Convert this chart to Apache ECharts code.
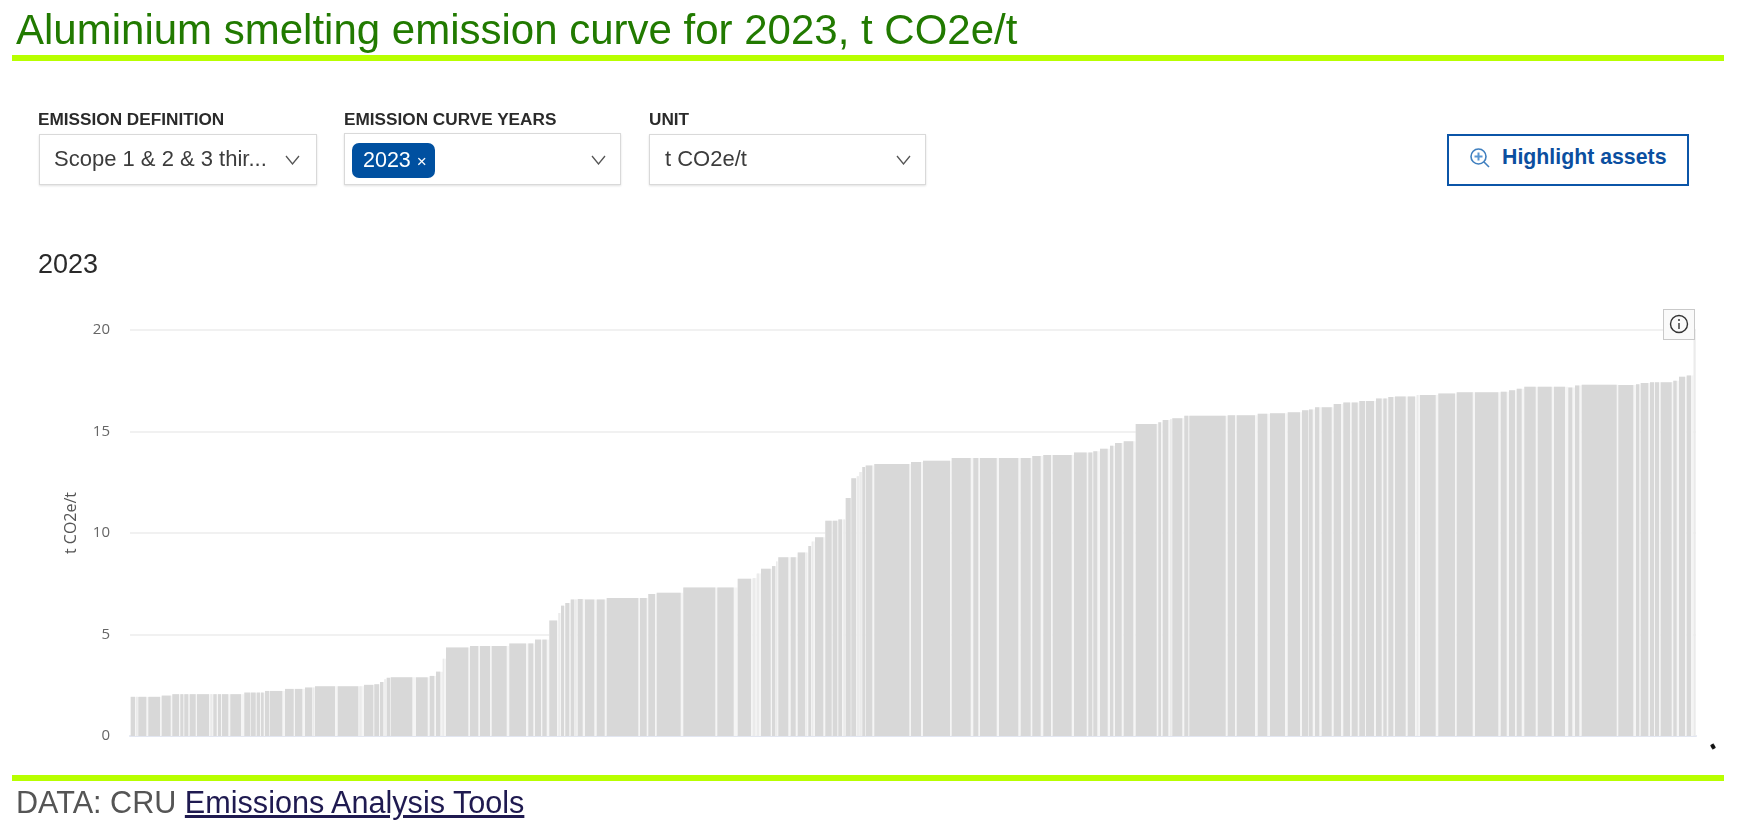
<!DOCTYPE html>
<html><head><meta charset="utf-8">
<script src="https://cdn.jsdelivr.net/npm/echarts@6/dist/echarts.min.js"></script>
<style>
html,body{margin:0;padding:0;background:#fff;width:1737px;height:829px;overflow:hidden;font-family:"Liberation Sans",Arial,sans-serif}
#chart{position:absolute;left:0;top:0;width:1737px;height:829px}
.a{position:absolute;white-space:nowrap}
.rule{position:absolute;left:12px;width:1712px;height:6px;background:#b8ff00}
.lab{font-weight:bold;font-size:17.2px;color:#2a2a2a;top:109px}
.box{position:absolute;height:50px;background:#fff;border:1px solid #d9d9d9;box-shadow:0 1px 2px rgba(0,0,0,.12);box-sizing:border-box}
.val{font-size:22px;color:#3c3c3c;top:146px}
svg.chev{position:absolute;top:155px}
</style></head><body>
<div id="chart"></div>
<div class="a" style="left:16px;top:7px;font-size:42px;color:#217a00;line-height:46px">Aluminium smelting emission curve for 2023, t CO2e/t</div>
<div class="rule" style="top:55px"></div>
<div class="a lab" style="left:38px">EMISSION DEFINITION</div>
<div class="a lab" style="left:344px">EMISSION CURVE YEARS</div>
<div class="a lab" style="left:649px">UNIT</div>
<div class="box" style="left:39px;top:134px;width:278px;height:51px"></div>
<div class="box" style="left:344px;top:133px;width:277px;height:52px"></div>
<div class="box" style="left:649px;top:134px;width:277px;height:51px"></div>
<div class="a val" style="left:54px">Scope 1 &amp; 2 &amp; 3 thir...</div>
<div class="a" style="left:352px;top:143px;width:83px;height:35px;background:#0050a0;border-radius:7px;color:#fff;font-size:21.5px;line-height:35px;text-indent:11px">2023 <span style="font-size:17px">×</span></div>
<div class="a val" style="left:665px">t CO2e/t</div>
<svg class="chev" style="left:285px" width="15" height="10"><path d="M1 1L7.5 9L14 1" fill="none" stroke="#555" stroke-width="1.3"/></svg>
<svg class="chev" style="left:591px" width="15" height="10"><path d="M1 1L7.5 9L14 1" fill="none" stroke="#555" stroke-width="1.3"/></svg>
<svg class="chev" style="left:896px" width="15" height="10"><path d="M1 1L7.5 9L14 1" fill="none" stroke="#555" stroke-width="1.3"/></svg>
<div class="box" style="left:1447px;top:134px;width:242px;height:52px;border:2px solid #0b55a8;box-shadow:none"></div>
<svg class="a" style="left:1469px;top:147px" width="22" height="22"><circle cx="9.5" cy="9.5" r="7.5" fill="none" stroke="#3f7fbf" stroke-width="1.6"/><path d="M15 15L20 20" stroke="#3f7fbf" stroke-width="1.6"/><path d="M9.5 5.5V13.5M5.5 9.5H13.5" stroke="#5a96d2" stroke-width="2"/></svg>
<div class="a" style="left:1502px;top:145px;font-size:21.3px;font-weight:bold;color:#0b4fa0">Highlight assets</div>
<div class="a" style="left:38px;top:249px;font-size:27px;color:#2a2a2a">2023</div>
<div class="a" style="left:1663px;top:309px;width:32px;height:31px;box-sizing:border-box;background:#fafafa;border:1px solid #c9c9c9"></div>
<svg class="a" style="left:1668px;top:313px" width="22" height="22"><circle cx="11" cy="11" r="8.5" fill="none" stroke="#333" stroke-width="1.4"/><path d="M11 10V16" stroke="#333" stroke-width="1.4"/><circle cx="11" cy="7" r="1" fill="#333"/></svg>
<div class="a" style="left:1711px;top:744px;width:4px;height:5px;background:#111;border-radius:1px;transform:rotate(-30deg)"></div>
<div class="rule" style="top:775px"></div>
<div class="a" style="left:16px;top:785px;font-size:30.6px;color:#555;line-height:34px">DATA: CRU <span style="color:#1f1a50;text-decoration:underline">Emissions Analysis Tools</span></div>
<script>
// Cumulative capacity (arbitrary units): where each asset's bar begins and ends
const assetStart = [0.7,6,8.3,18.3,31.7,42.3,50.3,54.3,59.7,67,80.3,83.3,88,92,100.3,114.3,121,126.7,131,135,139.7,155,165,175,182.7,185,207.7,229.3,234,244.3,250,254.3,256.7,260.7,286,299.7,306,311.7,
312.7,316,340,350,361.7,379.3,398.3,405,412.3,419.3,428.3,431,435.3,440.7,445,447.7,455,466.7,476.7,510,518.3,526.7,553.3,587.3,607.7,
622.7,626.7,631,642,646,648.3,660.7,667.7,675.3,678.3,681.7,685,695.3,702.7,708.3,713.3,715.7,721.3,726.7,729.3,732.3,735.7,744.3,781,793,821.7,843.3,850,869,890.7,902.3,913.3,922.7,
944,958.3,963.3,970,980,985,993.7,1005.7,1028.3,1032.7,1040,1042.3,1054.3,1059.3,1097.7,1106.7,1127.7,1140,1157.7,
1172,1179,1185,1191.7,1203.7,1213.3,1221.7,1229.3,1236,1246,1253.3,1258.3,1265,1277.7,1286.7,1290,1308.3,1326.7,1345,1370.7,1379,1386.7,1394.3,1407.7,1424,1438.3,1445,1451.7,1488.3,1506,1510.7,1520,1525,1530.7,1543.3,1549,1556.7,1563.6];
const assetEnd = [5,7.7,16.3,30,40.7,49,53.3,58.3,65.7,79,82.3,86.7,91,98.3,111,120.3,125.7,130,133.7,139,152.3,163.7,172.3,182.3,184.3,205,228.3,231.7,243.3,249,253.3,255.7,260,282.3,297.7,304.3,310.3,312.7,
314,338.3,348.3,360,376.7,396,403.3,411,416.7,427,430,434,439.3,444.3,446.7,452.7,464.3,474.7,508.3,516.7,525,550.7,585.3,603.7,621,
625.3,629,640.7,645.3,647.3,658.3,665.7,675,676.7,681,683.3,693.3,701.7,707.3,712,715,720.7,726,729,731.7,735,742.3,779.3,791,820,840.7,848.3,866.7,888.3,900.7,910.7,921,941.7,
956.7,962.3,967.3,977.7,983.3,991.7,1003.3,1026.7,1031,1038.3,1041.7,1052.3,1058.3,1095.7,1105,1125,1137.3,1155,1170,
1178.3,1182.7,1189.3,1201.7,1211,1220,1227.7,1235,1244,1251.7,1256.7,1263.3,1275.7,1285,1288.3,1305.7,1325,1342.7,1368.3,1376.7,1385,1391.7,1405.7,1421.7,1435,1442.3,1449.3,1486.7,1503.3,1509.3,1518.3,1524,1529,1541.7,1546.7,1555,1561,1565.6];
// Emissions intensity of each asset, t CO2e/t
const emission = [1.93,1.93,1.93,1.93,1.99,2.06,2.06,2.06,2.06,2.06,2.06,2.06,2.06,2.06,2.06,2.14,2.14,2.14,2.14,2.22,2.22,2.32,2.32,2.39,2.39,2.45,2.45,2.45,2.52,2.55,2.66,2.79,2.87,2.89,2.89,2.96,3.17,3.17,
3.81,4.36,4.43,4.43,4.43,4.56,4.56,4.75,4.75,5.69,6.06,6.42,6.55,6.72,6.72,6.75,6.72,6.72,6.8,6.8,7.0,7.06,7.32,7.32,7.75,
7.78,8.0,8.24,8.37,8.6,8.81,8.81,9.04,9.04,9.36,9.58,9.79,10.6,10.6,10.67,10.67,11.73,12.7,12.8,13.0,13.25,13.33,13.4,13.5,13.56,13.7,13.7,13.7,13.7,13.7,13.79,13.84,13.84,
13.97,13.97,14.03,14.15,14.3,14.43,14.52,15.37,15.45,15.57,15.6,15.65,15.78,15.78,15.8,15.8,15.88,15.9,15.95,
16.05,16.08,16.2,16.2,16.35,16.43,16.43,16.5,16.5,16.63,16.63,16.7,16.73,16.73,16.8,16.8,16.87,16.93,16.93,16.96,17.03,17.1,17.2,17.2,17.2,17.17,17.27,17.3,17.29,17.33,17.39,17.43,17.43,17.43,17.5,17.7,17.76,20];
const yTicks = [0,5,10,15,20];
const yAxisName = "t CO2e/t";

const BAR = '#d8d8d8', GAP = '#f5f5f5', THIN = '#ebebeb';
const rows = assetStart.map((s,i)=>[s, assetEnd[i], emission[i], i+1<assetStart.length ? assetStart[i+1] : assetEnd[i]]);
const chart = echarts.init(document.getElementById('chart'), null, {renderer:'canvas'});
chart.setOption({
  animation:false,
  grid:{left:130,right:41,top:330,bottom:93,containLabel:false},
  xAxis:{type:'value',min:0,max:1566,splitLine:{show:false},axisTick:{show:false},axisLabel:{show:false},
    axisLine:{show:true,lineStyle:{color:'#e2e6f1',width:2}}},
  yAxis:{type:'value',min:yTicks[0],max:yTicks[yTicks.length-1],interval:5,
    name:yAxisName,nameLocation:'middle',nameGap:51,nameRotate:90,
    nameTextStyle:{color:'#555',fontSize:16,fontFamily:'Open Sans',padding:[0,0,0,20]},
    axisLine:{show:false},axisTick:{show:false},
    axisLabel:{color:'#666',fontSize:15,margin:20,padding:[0,0,7,0],fontFamily:'Open Sans'},
    splitLine:{lineStyle:{color:'#f1f1f1',width:2}}},
  series:[{type:'custom',data:rows,encode:{x:[0,1],y:2},clip:false,
    renderItem:(p,api)=>{
      const a=api.coord([api.value(0),api.value(2)]), b=api.coord([api.value(1),0]), n=api.coord([api.value(3),0]);
      const wide=b[0]-a[0];
      return {type:'group',children:[
        {type:'rect',shape:{x:a[0],y:a[1],width:n[0]-a[0],height:b[1]-a[1]},style:{fill:GAP}},
        {type:'rect',shape:{x:a[0],y:a[1],width:wide,height:b[1]-a[1]},style:{fill:wide<2.6?THIN:BAR}}
      ]};
    }}]
});
</script>
</body></html>
